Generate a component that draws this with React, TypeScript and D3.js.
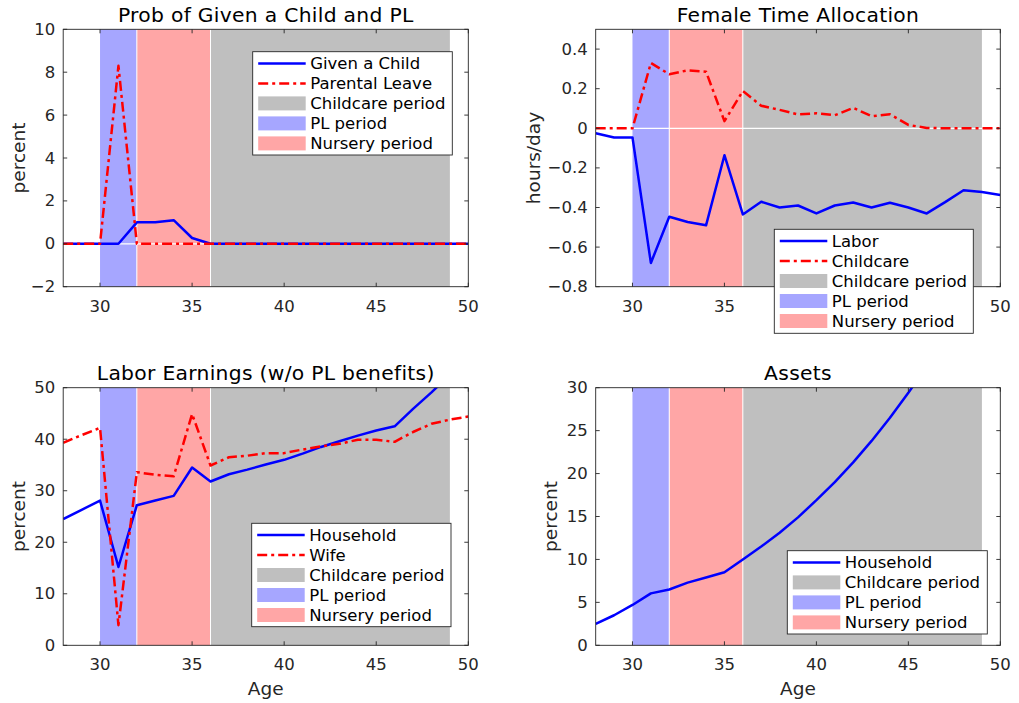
import React from "react";
import * as d3 from "d3";

const ages = [28,29,30,31,32,33,34,35,36,37,38,39,40,41,42,43,44,45,46,47,48,49,50];

const givenChild = [0,0,0,0,1.0,1.0,1.1,0.27,0,0,0,0,0,0,0,0,0,0,0,0,0,0,0];
const parentalLeave = [0,0,0,8.3,0,0,0,0,0,0,0,0,0,0,0,0,0,0,0,0,0,0,0];

const labor = [-0.025,-0.046,-0.046,-0.68,-0.447,-0.473,-0.49,-0.136,-0.435,-0.371,-0.40,-0.39,-0.43,-0.39,-0.375,-0.40,-0.376,-0.40,-0.43,-0.373,-0.313,-0.322,-0.337];
const childcare = [0,0,0,0.33,0.273,0.293,0.286,0.036,0.188,0.114,0.093,0.07,0.076,0.066,0.103,0.061,0.071,0.017,0.002,0,0,0,0];

const householdEarn = [24.5,26.3,28.1,15.2,27.2,28.1,29.0,34.5,31.8,33.2,34.1,35.1,36.0,37.2,38.5,39.6,40.7,41.7,42.5,45.9,49.1,52.5,56.0];
const wifeEarn = [39.3,40.8,42.2,3.9,33.6,33.1,32.8,44.9,34.9,36.5,36.8,37.3,37.3,38.0,38.6,39.1,39.9,39.9,39.5,41.4,43.0,43.8,44.4];

const assets = [2.5,3.5,4.7,6.05,6.5,7.3,7.9,8.5,10.0,11.5,13.1,14.9,16.9,19.0,21.3,23.8,26.5,29.4,32.5,35.8,39.3,43.0,47.0];

const plPeriod = [30, 32];
const nurseryPeriod = [32, 36];
const childcarePeriod = [36, 49];

const xTicks = [30, 35, 40, 45, 50];

const FONT = "'DejaVu Sans', sans-serif";
const AX = "#262626";
const BLUE = "#0000ff";
const RED = "#ff0000";
const C_GRAY = "#bfbfbf";
const C_BLUE = "#a6a6ff";
const C_PINK = "#ffa6a6";
const DASHDOT = "10,4,3,4";
const LW = 2.5;

type Series = { values: number[]; color: string; dash?: string; label: string };
type PanelProps = {
  id: string;
  left: number; right: number; top: number; bottom: number;
  yDomain: [number, number];
  yTicks: number[];
  yFmt: (v: number) => string;
  title: string;
  yLabel: string;
  yLabelX: number;
  xLabel?: string;
  series: Series[];
  zeroLine?: boolean;
  hiddenXTickLabels?: number[];
  legend: { x: number; y: number; w: number; h: number };
};

function fmtNum(v: number, digits: number) {
  const s = v.toFixed(digits);
  return v < 0 ? "\u2212" + s.slice(1) : s;
}

function Panel(p: PanelProps) {
  const x = d3.scaleLinear().domain([28, 50]).range([p.left, p.right]);
  const y = d3.scaleLinear().domain(p.yDomain).range([p.bottom, p.top]);
  const line = d3.line<number>().x((_, i) => x(ages[i])).y((d) => y(d));
  const bands = [
    { r: childcarePeriod, c: C_GRAY, label: "Childcare period" },
    { r: plPeriod, c: C_BLUE, label: "PL period" },
    { r: nurseryPeriod, c: C_PINK, label: "Nursery period" },
  ];
  const tl = 4;
  const cx = (p.left + p.right) / 2;
  const cy = (p.top + p.bottom) / 2;
  const hidden = p.hiddenXTickLabels || [];
  const legendItems = [
    ...p.series.map((s) => ({ kind: "line", color: s.color, dash: s.dash, label: s.label })),
    ...bands.map((b) => ({ kind: "patch", color: b.c, dash: undefined, label: b.label })),
  ];
  return (
    <g>
      <defs>
        <clipPath id={"clip-" + p.id}>
          <rect x={p.left} y={p.top} width={p.right - p.left} height={p.bottom - p.top} />
        </clipPath>
      </defs>
      <rect x={p.left} y={p.top} width={p.right - p.left} height={p.bottom - p.top} fill="#fff" />
      {bands.map((b, i) => (
        <rect key={i} x={x(b.r[0])} y={p.top} width={x(b.r[1]) - x(b.r[0])} height={p.bottom - p.top} fill={b.c} />
      ))}
      {[32, 36].map((v) => (
        <line key={v} x1={x(v)} x2={x(v)} y1={p.top} y2={p.bottom} stroke="#fff" strokeWidth={1} />
      ))}
      {p.zeroLine && (
        <line x1={p.left} x2={p.right} y1={y(0)} y2={y(0)} stroke="#fff" strokeWidth={1.2} />
      )}
      <g clipPath={`url(#clip-${p.id})`}>
        {p.series.map((s, i) => (
          <path key={i} d={line(s.values) || ""} fill="none" stroke={s.color} strokeWidth={LW}
            strokeDasharray={s.dash} strokeLinejoin="round" />
        ))}
      </g>
      <rect x={p.left} y={p.top} width={p.right - p.left} height={p.bottom - p.top} fill="none" stroke={AX} strokeWidth={0.9} />
      {xTicks.map((t) => (
        <g key={"x" + t}>
          <line x1={x(t)} x2={x(t)} y1={p.bottom} y2={p.bottom - tl} stroke={AX} strokeWidth={0.9} />
          <line x1={x(t)} x2={x(t)} y1={p.top} y2={p.top + tl} stroke={AX} strokeWidth={0.9} />
          {hidden.indexOf(t) < 0 && (
            <text x={x(t)} y={p.bottom + 19.5} textAnchor="middle" dominantBaseline="central"
              fontSize={16.5} fill={AX}>{t}</text>
          )}
        </g>
      ))}
      {p.yTicks.map((t) => (
        <g key={"y" + t}>
          <line x1={p.left} x2={p.left + tl} y1={y(t)} y2={y(t)} stroke={AX} strokeWidth={0.9} />
          <line x1={p.right} x2={p.right - tl} y1={y(t)} y2={y(t)} stroke={AX} strokeWidth={0.9} />
          <text x={p.left - 8} y={y(t)} textAnchor="end" dominantBaseline="central"
            fontSize={16.5} fill={AX}>{p.yFmt(t)}</text>
        </g>
      ))}
      <text x={cx} y={p.top - 14.5} textAnchor="middle" dominantBaseline="central" fontSize={20.3}
        letterSpacing={0.3} fill="#000">{p.title}</text>
      <text transform={`translate(${p.yLabelX},${cy}) rotate(-90)`} textAnchor="middle" dominantBaseline="central"
        fontSize={18.5} fill={AX}>{p.yLabel}</text>
      {p.xLabel && (
        <text x={cx} y={p.bottom + 43} textAnchor="middle" dominantBaseline="central" fontSize={18.5} fill={AX}>{p.xLabel}</text>
      )}
      <g>
        <rect x={p.legend.x} y={p.legend.y} width={p.legend.w} height={p.legend.h} fill="#fff" stroke={AX} strokeWidth={0.9} />
        {legendItems.map((it, i) => {
          const ry = p.legend.y + 11.7 + i * 20;
          const sx0 = p.legend.x + 5.5;
          const sx1 = sx0 + 47.5;
          return (
            <g key={i}>
              {it.kind === "line" ? (
                <line x1={sx0} x2={sx1} y1={ry} y2={ry} stroke={it.color} strokeWidth={LW} strokeDasharray={it.dash} />
              ) : (
                <rect x={sx0} y={ry - 7} width={sx1 - sx0} height={14} fill={it.color} />
              )}
              <text x={sx1 + 4.5} y={ry} dominantBaseline="central" fontSize={16.5} fill="#000">{it.label}</text>
            </g>
          );
        })}
      </g>
    </g>
  );
}

export default function App() {
  return (
    <svg width={1019} height={703} style={{ position: "absolute", left: 0, top: 0, fontFamily: FONT }}>
      <rect width={1019} height={703} fill="#fff" />
      <Panel id="p1" left={63.2} right={468.3} top={29.3} bottom={286.7}
        yDomain={[-2, 10]} yTicks={[-2, 0, 2, 4, 6, 8, 10]} yFmt={(v) => fmtNum(v, 0)}
        title="Prob of Given a Child and PL" yLabel="percent" yLabelX={18}
        zeroLine
        series={[
          { values: givenChild, color: BLUE, label: "Given a Child" },
          { values: parentalLeave, color: RED, dash: DASHDOT, label: "Parental Leave" },
        ]}
        legend={{ x: 252.7, y: 51.7, w: 199.6, h: 103.3 }} />
      <Panel id="p2" left={595.7} right={1000.3} top={29.3} bottom={286.7}
        yDomain={[-0.8, 0.5]} yTicks={[-0.8, -0.6, -0.4, -0.2, 0, 0.2, 0.4]}
        yFmt={(v) => (Math.abs(v) < 1e-9 ? "0" : fmtNum(v, 1))}
        title="Female Time Allocation" yLabel="hours/day" yLabelX={533}
        zeroLine hiddenXTickLabels={[40, 45]}
        series={[
          { values: labor, color: BLUE, label: "Labor" },
          { values: childcare, color: RED, dash: DASHDOT, label: "Childcare" },
        ]}
        legend={{ x: 774.3, y: 229.3, w: 199, h: 104 }} />
      <Panel id="p3" left={63.2} right={468.3} top={387.7} bottom={645.3}
        yDomain={[0, 50]} yTicks={[0, 10, 20, 30, 40, 50]} yFmt={(v) => fmtNum(v, 0)}
        title="Labor Earnings (w/o PL benefits)" yLabel="percent" yLabelX={18} xLabel="Age"
        series={[
          { values: householdEarn, color: BLUE, label: "Household" },
          { values: wifeEarn, color: RED, dash: DASHDOT, label: "Wife" },
        ]}
        legend={{ x: 251.7, y: 523.3, w: 199.3, h: 103.4 }} />
      <Panel id="p4" left={595.7} right={1000.3} top={387.7} bottom={645.3}
        yDomain={[0, 30]} yTicks={[0, 5, 10, 15, 20, 25, 30]} yFmt={(v) => fmtNum(v, 0)}
        title="Assets" yLabel="percent" yLabelX={550} xLabel="Age"
        series={[
          { values: assets, color: BLUE, label: "Household" },
        ]}
        legend={{ x: 787.3, y: 550.7, w: 200, h: 83.3 }} />
    </svg>
  );
}
